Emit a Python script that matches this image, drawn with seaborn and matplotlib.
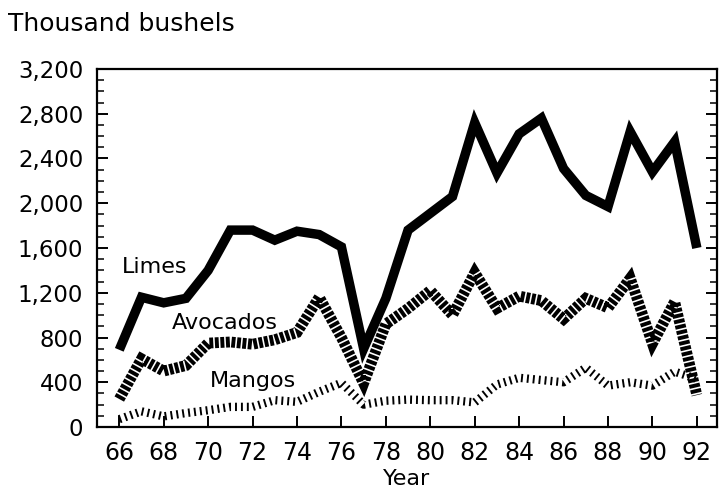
import matplotlib
matplotlib.use("Agg")
import matplotlib.pyplot as plt
from matplotlib.ticker import FuncFormatter, MultipleLocator
import numpy as np
import pandas as pd
import seaborn as sns

# Florida fruit production, thousand bushels
years = list(range(66, 93))
limes = [690, 1160, 1110, 1150, 1400, 1760, 1760, 1670, 1750, 1720, 1610, 700, 1150,
         1760, 1910, 2060, 2720, 2270, 2620, 2760, 2310, 2070, 1970, 2640, 2280, 2550, 1600]
avocados = [250, 610, 500, 550, 750, 760, 740, 780, 845, 1160, 800, 390, 920,
            1060, 1220, 1000, 1380, 1060, 1170, 1130, 965, 1150, 1065, 1330, 745, 1120, 285]
mangos = [70, 140, 95, 125, 150, 180, 180, 240, 225, 315, 395, 200, 235,
          245, 240, 240, 220, 380, 440, 420, 400, 530, 370, 400, 370, 495, 430]

df = pd.DataFrame({"Year": years, "Limes": limes, "Avocados": avocados, "Mangos": mangos})

sns.set_style("white")
plt.rcParams["font.family"] = ["DejaVu Sans"]
plt.rcParams["text.color"] = "black"
plt.rcParams["xtick.color"] = "black"
plt.rcParams["ytick.color"] = "black"
plt.rcParams["axes.labelcolor"] = "black"

fig = plt.figure(figsize=(7.19, 4.91), dpi=100)
ax = fig.add_axes([0.135, 0.1303, 0.862, 0.7292])

sns.lineplot(data=df, x="Year", y="Limes", ax=ax, color="black", linewidth=6.8,
             solid_joinstyle="miter", solid_capstyle="butt")
sns.lineplot(data=df, x="Year", y="Avocados", ax=ax, color="black", linewidth=7.8,
             linestyle=(0, (0.36, 0.15)), dash_capstyle="butt", dash_joinstyle="miter")
sns.lineplot(data=df, x="Year", y="Mangos", ax=ax, color="black", linewidth=6,
             linestyle=(0, (0.23, 0.48)), dash_capstyle="butt")

ax.set_xlim(65, 92.9)
ax.set_ylim(0, 3200)
ax.xaxis.set_major_locator(MultipleLocator(2))
ax.yaxis.set_major_locator(MultipleLocator(400))
ax.yaxis.set_minor_locator(MultipleLocator(100))
ax.yaxis.set_major_formatter(FuncFormatter(lambda v, p: f"{int(v):,}"))
ax.tick_params(axis="y", which="major", direction="in", length=8, width=1.4,
               left=True, right=True, labelsize=16.5, pad=10)
ax.tick_params(axis="y", which="minor", direction="in", length=5, width=1.1,
               left=True, right=True)
ax.tick_params(axis="x", which="major", direction="in", length=8, width=1.4,
               bottom=True, top=False, labelsize=17, pad=10)
for s in ax.spines.values():
    s.set_color("black")
    s.set_linewidth(1.6)

ax.set_xlabel("Year", fontsize=16, labelpad=3)
ax.set_ylabel("")
fig.text(0.011, 0.952, "Thousand bushels", fontsize=18, ha="left", va="center")

ax.text(66.13, 1376, "Limes", fontsize=16, va="baseline")
ax.text(68.38, 876, "Avocados", fontsize=16, va="baseline")
ax.text(70.09, 357, "Mangos", fontsize=16, va="baseline")

fig.savefig("out.png", dpi=100)
